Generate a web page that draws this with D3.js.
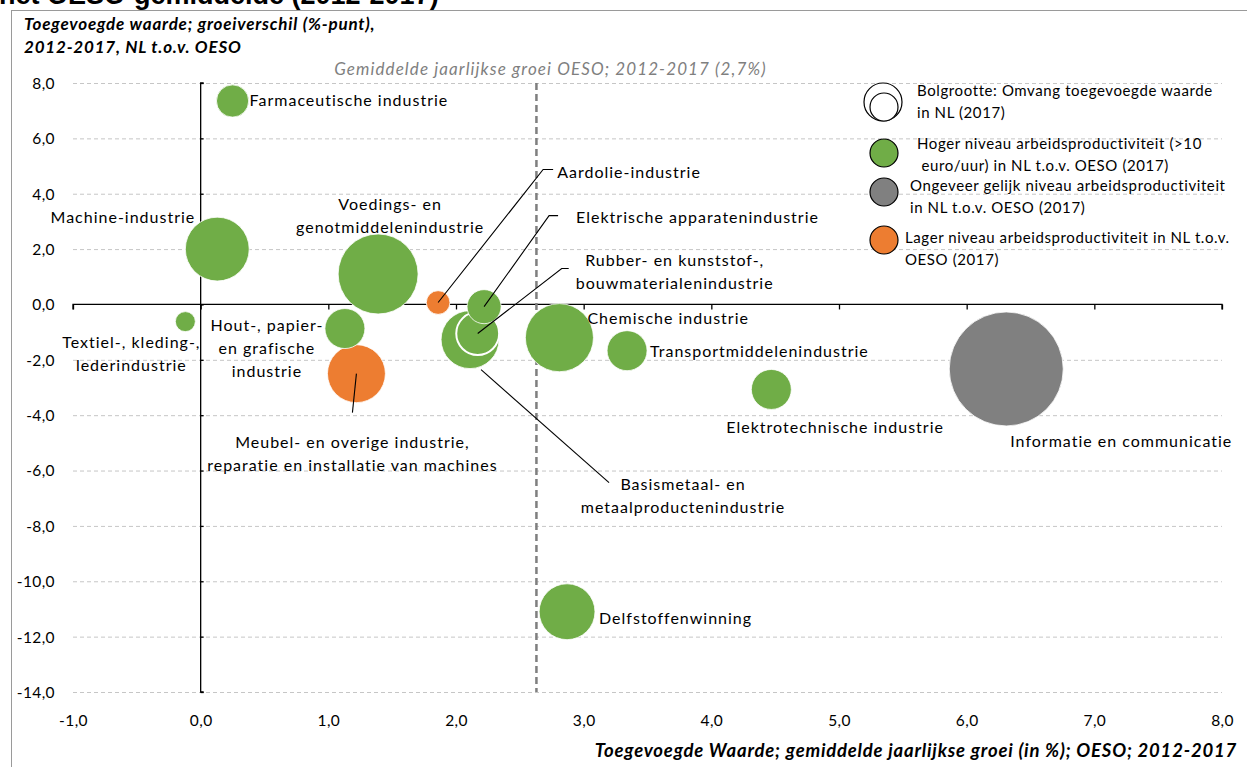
<!DOCTYPE html>
<html><head><meta charset="utf-8">
<script src="https://cdn.jsdelivr.net/npm/d3@7"></script>
<style>
body{margin:0;background:#fff;}
svg{display:block;font-family:Lato,"Open Sans",sans-serif;}
</style></head>
<body><svg id="c" width="1247" height="767"></svg>
<script>
// ---- data ----
const sectors = ["Farmaceutische industrie","Machine-industrie","Textiel-, kleding-, lederindustrie","Voedings- en genotmiddelenindustrie","Aardolie-industrie","Elektrische apparatenindustrie","Basismetaal- en metaalproductenindustrie","Rubber- en kunststof-, bouwmaterialenindustrie","Hout-, papier- en grafische industrie","Meubel- en overige industrie, reparatie en installatie van machines","Chemische industrie","Transportmiddelenindustrie","Elektrotechnische industrie","Informatie en communicatie","Delfstoffenwinning"];
const oecdGrowth = [0.25,0.13,-0.12,1.39,1.86,2.22,2.11,2.17,1.13,1.22,2.81,3.34,4.47,6.31,2.87];
const growthDiff = [7.35,2.0,-0.62,1.1,0.07,-0.08,-1.27,-1.05,-0.87,-2.5,-1.2,-1.67,-3.07,-2.33,-11.1];
const valueAdded = [2.6,10.2,1.0,16.0,1.4,2.9,8.4,4.6,4.0,8.4,11.6,4.0,4.0,32.5,7.8];
const productivity = ["hoger","hoger","hoger","hoger","lager","hoger","hoger","hoger","hoger","lager","hoger","hoger","hoger","gelijk","hoger"];
const xTicks = [-1,0,1,2,3,4,5,6,7,8];
const yTicks = [8,6,4,2,0,-2,-4,-6,-8,-10,-12,-14];
const oecdAverage = 2.63; // label: 2,7%
const legendItems = ["Bolgrootte: Omvang toegevoegde waarde|in NL (2017)","Hoger niveau arbeidsproductiviteit (>10| euro/uur) in NL t.o.v. OESO (2017)","Ongeveer gelijk niveau arbeidsproductiviteit|in NL t.o.v. OESO (2017)","Lager niveau arbeidsproductiviteit in NL t.o.v.|OESO (2017)"];

// ---- layout ----
const colors = {hoger:"#70AD47", gelijk:"#808080", lager:"#ED7D31"};
const labelLayout = [
 {lines:["Farmaceutische industrie"], dx:17, dy:5, anchor:"start"},
 {lines:["Machine-industrie"], dx:-22, dy:-26, anchor:"end"},
 {lines:["Textiel-, kleding-,","lederindustrie"], dx:-54, dy:26, anchor:"middle"},
 {lines:["Voedings- en","genotmiddelenindustrie"], dx:12, dy:-64, anchor:"middle"},
 {lines:["Aardolie-industrie"], dx:119, dy:-125, anchor:"start", leader:[[105,-133],[115,-133]]},
 {lines:["Elektrische apparatenindustrie"], dx:92, dy:-84, anchor:"start", leader:[[65,-91],[74,-91]]},
 {lines:["Basismetaal- en","metaalproductenindustrie"], dx:213, dy:150, anchor:"middle", leader:[[11,30],[139,143]], leaderFromCenter:false},
 {lines:["Rubber- en kunststof-,","bouwmaterialenindustrie"], dx:197, dy:-68, anchor:"middle", leader:[[84,-65],[91,-65]]},
 {lines:["Hout-, papier-","en grafische","industrie"], dx:-78, dy:2, anchor:"middle"},
 {lines:["Meubel- en overige industrie,","reparatie en installatie van machines"], dx:-4, dy:74, anchor:"middle", leader:[[-4,39]]},
 {lines:["Chemische industrie"], dx:28, dy:-14, anchor:"start"},
 {lines:["Transportmiddelenindustrie"], dx:23, dy:6, anchor:"start"},
 {lines:["Elektrotechnische industrie"], dx:-45, dy:44, anchor:"start"},
 {lines:["Informatie en communicatie"], dx:4, dy:78, anchor:"start"},
 {lines:["Delfstoffenwinning"], dx:32, dy:12, anchor:"start"}
];

const svg = d3.select("#c");
const x = d3.scaleLinear().domain([-1,8]).range([73,1222]);
const y = d3.scaleLinear().domain([-14,8]).range([692,83]);
const r = d3.scaleSqrt().domain([0,32.5]).range([0,57]);

// frame + cut-off title
svg.append("text").attr("x",-1).attr("y",4).attr("font-family","Liberation Sans, Arial, sans-serif")
  .attr("font-weight","bold").attr("font-size",27).attr("fill","#000").text("het OESO-gemiddelde (2012-2017)");
svg.append("rect").attr("x",11.5).attr("y",10.5).attr("width",1300).attr("height",800)
  .attr("fill","#fff").attr("stroke","#9a9a9a").attr("stroke-width",1);

// gridlines
svg.append("g").selectAll("line").data(yTicks.filter(d=>d!==0)).join("line")
  .attr("x1",x(-1)).attr("x2",x(8)).attr("y1",d=>y(d)+0.5).attr("y2",d=>y(d)+0.5)
  .attr("stroke","#c6c6c6").attr("stroke-width",1).attr("stroke-dasharray","4,3");

const fmt = d=>d3.format(".1f")(d).replace(".",",").replace("−","-");
// y tick labels
const yAxisLab = svg.append("g").attr("transform",`translate(${x(-1)-15},0)`)
  .call(d3.axisLeft(y).tickValues(yTicks).tickSize(0).tickFormat(fmt));
yAxisLab.select(".domain").remove();
yAxisLab.selectAll("text").attr("font-family","Lato, sans-serif").attr("font-size",15.5).attr("fill","#000").attr("letter-spacing","0.4px").attr("dy","0.35em");

// x tick labels
const xAxisLab = svg.append("g").attr("transform",`translate(0,${y(-14)+20})`)
  .call(d3.axisBottom(x).tickValues(xTicks).tickSize(0).tickFormat(fmt));
xAxisLab.select(".domain").remove();
xAxisLab.selectAll("text").attr("font-family","Lato, sans-serif").attr("font-size",15.5).attr("fill","#000").attr("letter-spacing","0.4px");

// axis lines through origin
const xAx = svg.append("g").attr("transform",`translate(0,${y(0)})`)
  .call(d3.axisBottom(x).tickValues(xTicks).tickSize(5).tickFormat(""));
xAx.select(".domain").attr("stroke","#000").attr("stroke-width",1.3).attr("d",`M${x(-1)},5V0H${x(8)}V5`);
xAx.selectAll(".tick line").attr("stroke","#000").attr("stroke-width",1.3);
const yAx = svg.append("g").attr("transform",`translate(${x(0)},0)`)
  .call(d3.axisRight(y).tickValues(yTicks).tickSize(3).tickFormat(""));
yAx.select(".domain").attr("stroke","#000").attr("stroke-width",1.3).attr("d",`M3,${y(8)}H0V${y(-14)}H3`);
yAx.selectAll(".tick line").attr("stroke","#000").attr("stroke-width",1.3);

// OECD average line
svg.append("line").attr("x1",x(oecdAverage)).attr("x2",x(oecdAverage)).attr("y1",y(8)).attr("y2",y(-14))
  .attr("stroke","#7f7f7f").attr("stroke-width",2.5).attr("stroke-dasharray","7,4");
svg.append("text").attr("x",x(oecdAverage)+14).attr("y",75).attr("text-anchor","middle")
  .attr("font-style","italic").attr("font-size",17).attr("letter-spacing","1.1px").attr("fill","#7f7f7f")
  .text("Gemiddelde jaarlijkse groei OESO; 2012-2017  (2,7%)");

// titles
const t1 = svg.append("text").attr("font-weight","bold").attr("font-style","italic").attr("font-size",17).attr("letter-spacing","0.8px").attr("fill","#000");
t1.append("tspan").attr("x",24).attr("y",30).text("Toegevoegde  waarde; groeiverschil  (%-punt),");
t1.append("tspan").attr("x",24).attr("y",53).text("2012-2017, NL t.o.v.  OESO");
svg.append("text").attr("x",1237).attr("y",757).attr("text-anchor","end").attr("font-weight","bold")
  .attr("font-style","italic").attr("font-size",18.5).attr("letter-spacing","0.8px").attr("fill","#000")
  .text("Toegevoegde Waarde; gemiddelde jaarlijkse groei (in %); OESO; 2012-2017");

// data table
const data = sectors.map((s,i)=>({name:s,x:oecdGrowth[i],y:growthDiff[i],v:valueAdded[i],p:productivity[i],lab:labelLayout[i]}));

function leaderPts(d){
  const L=d.lab, cx=x(d.x), cy=y(d.y);
  return (L.leaderFromCenter===false?[]:[[cx,cy]]).concat(L.leader.map(p=>[cx+p[0],cy+p[1]]));
}

// bubbles (largest first)
const order = data.slice().sort((a,b)=>b.v-a.v);
svg.append("g").selectAll("circle").data(order).join("circle")
  .attr("cx",d=>x(d.x)).attr("cy",d=>y(d.y)).attr("r",d=>r(d.v))
  .attr("fill",d=>colors[d.p]).attr("stroke","#fff").attr("stroke-width",d=>d.name.startsWith("Rubber")?2:0.8);

// leader lines
data.filter(d=>d.lab.leader).forEach(d=>{
  svg.append("path").attr("d",d3.line()(leaderPts(d))).attr("fill","none").attr("stroke","#000").attr("stroke-width",1.1);
});

// labels
const gLab = svg.append("g").attr("font-size",16).attr("fill","#000").attr("letter-spacing","1px");
data.forEach(d=>{
  const L=d.lab, cx=x(d.x), cy=y(d.y);
  const t=gLab.append("text").attr("text-anchor",L.anchor);
  L.lines.forEach((ln,k)=>t.append("tspan").attr("x",cx+L.dx).attr("y",cy+L.dy+k*23).text(ln));
});

// legend
const lg = svg.append("g").attr("font-size",15).attr("fill","#000").attr("letter-spacing","0.6px");
lg.append("circle").attr("cx",883).attr("cy",102).attr("r",19).attr("fill","#fff").attr("stroke","#000").attr("stroke-width",1.2);
lg.append("circle").attr("cx",884).attr("cy",107).attr("r",14).attr("fill","#fff").attr("stroke","#000").attr("stroke-width",1.2);
const legendSwatch = [null,"hoger","gelijk","lager"];
const legendY = [96,149,191,243];
const legendX = [917,917,910,905];
const swatchY = [null,153,192,240];
legendItems.forEach((txt,i)=>{
  if(legendSwatch[i]) lg.append("circle").attr("cx",884).attr("cy",swatchY[i]).attr("r",14)
      .attr("fill",colors[legendSwatch[i]]).attr("stroke","#000").attr("stroke-width",1.2);
  const t=lg.append("text");
  txt.split("|").forEach((ln,k)=>t.append("tspan").attr("x",legendX[i]).attr("y",legendY[i]+k*22).text(ln));
});
</script></body></html>
